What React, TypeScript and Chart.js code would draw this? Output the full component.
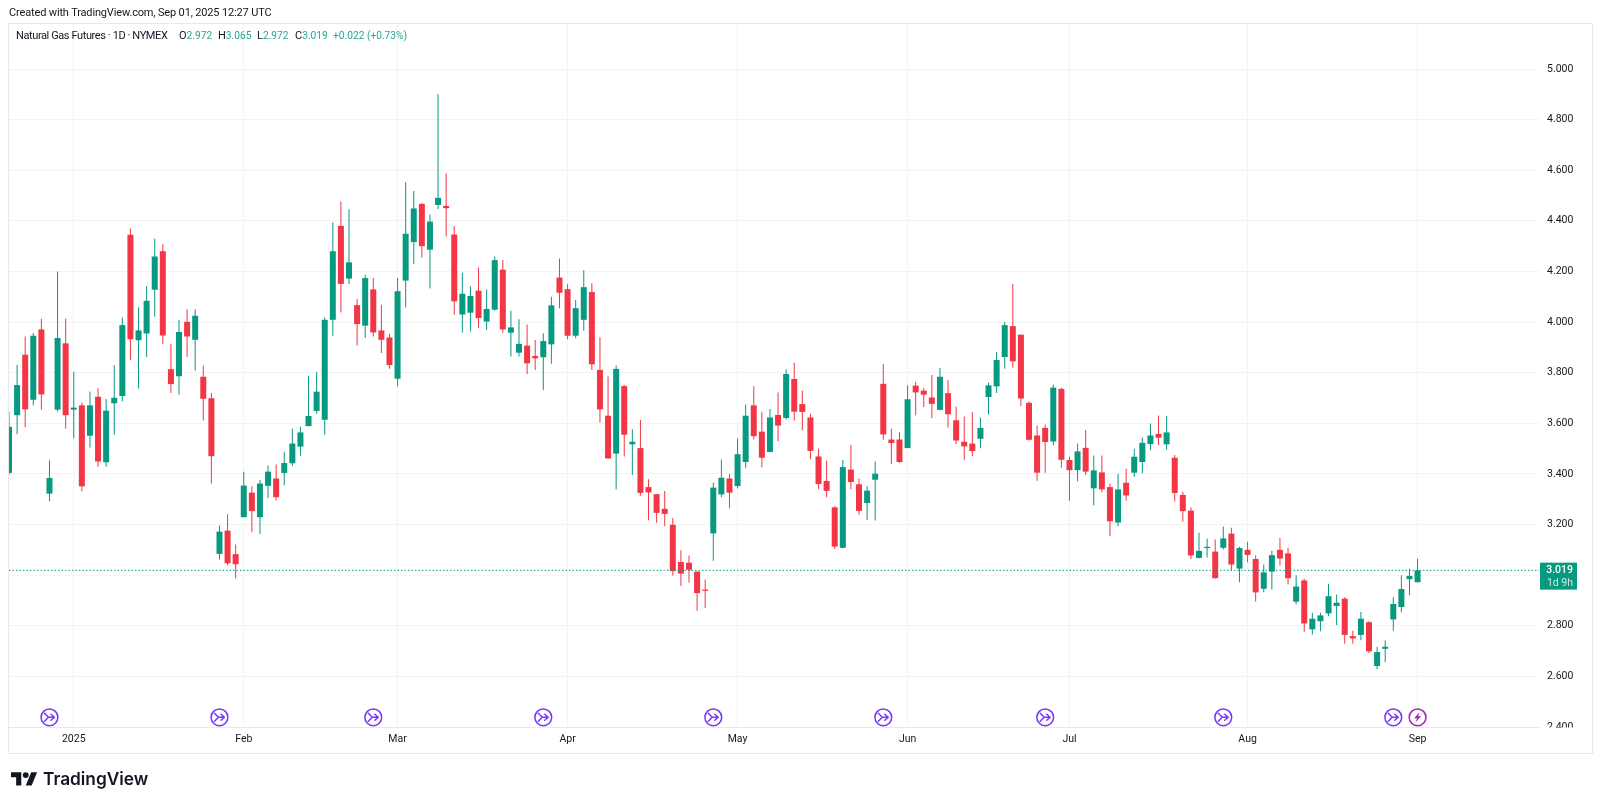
import { useEffect, useRef } from 'react'
import { Chart, registerables } from 'chart.js'

Chart.register(...registerables)

const FONT = 'Roboto, sans-serif'
const GREEN = '#089981'
const RED = '#f23645'
const GRID = '#f3f3f5'
const FRAME = '#e9e9eb'
const INK = '#131722'

// sessions, oldest first; the first eight are late December 2024
const opens = [
  3.404, 3.632, 3.871, 3.693, 3.971, 3.322, 3.654, 3.916,
  3.654, 3.671, 3.551, 3.705, 3.446, 3.679, 3.708, 4.345, 3.928, 3.955,
  4.128, 4.280, 3.814, 3.786, 4.001, 3.930, 3.784, 3.699, 3.084, 3.176,
  3.083, 3.229, 3.326, 3.229, 3.353, 3.382, 3.404, 3.442, 3.508, 3.589,
  3.649, 3.614, 4.009, 4.380, 4.172, 4.067, 3.986, 4.129, 3.967, 3.939,
  3.776, 4.164, 4.316, 4.467, 4.286, 4.463, 4.459, 4.346, 4.030, 4.037,
  4.124, 4.002, 4.049, 4.207, 3.958, 3.879, 3.907, 3.866, 3.861, 3.912,
  4.176, 4.130, 3.946, 4.009, 4.119, 3.811, 3.630, 3.480, 3.747, 3.517,
  3.502, 3.348, 3.320, 3.262, 3.199, 3.052, 3.049, 3.014, 2.943, 3.165,
  3.319, 3.382, 3.352, 3.447, 3.671, 3.567, 3.487, 3.633, 3.621, 3.775,
  3.676, 3.623, 3.469, 3.372, 3.268, 3.108, 3.417, 3.359, 3.285, 3.377,
  3.756, 3.536, 3.536, 3.502, 3.749, 3.729, 3.702, 3.653, 3.719, 3.612,
  3.527, 3.520, 3.539, 3.704, 3.746, 3.862, 3.984, 3.950, 3.681, 3.552,
  3.582, 3.528, 3.736, 3.455, 3.415, 3.503, 3.343, 3.406, 3.348, 3.208,
  3.365, 3.405, 3.447, 3.518, 3.558, 3.517, 3.464, 3.317, 3.255, 3.068,
  3.107, 3.093, 3.108, 3.164, 3.026, 3.100, 3.064, 2.946, 3.014, 3.100,
  3.086, 2.895, 2.979, 2.786, 2.818, 2.849, 2.878, 2.907, 2.759, 2.764,
  2.814, 2.641, 2.709, 2.825, 2.874, 2.984, 2.972,
]
const closes = [
  3.586, 3.751, 3.655, 3.946, 3.714, 3.384, 3.937, 3.632,
  3.662, 3.351, 3.671, 3.449, 3.650, 3.701, 3.988, 3.932, 3.967, 4.084,
  4.259, 3.947, 3.755, 3.961, 3.943, 4.025, 3.697, 3.470, 3.172, 3.047,
  3.043, 3.354, 3.253, 3.362, 3.409, 3.308, 3.443, 3.520, 3.564, 3.629,
  3.725, 4.009, 4.280, 4.151, 4.236, 3.992, 4.174, 3.959, 3.930, 3.830,
  4.122, 4.349, 4.449, 4.300, 4.397, 4.491, 4.450, 4.082, 4.112, 4.103,
  4.016, 4.052, 4.245, 3.971, 3.979, 3.914, 3.837, 3.857, 3.925, 4.066,
  4.116, 3.946, 4.055, 4.138, 3.833, 3.655, 3.461, 3.815, 3.555, 3.527,
  3.325, 3.327, 3.246, 3.242, 3.016, 3.006, 3.021, 2.929, 2.938, 3.346,
  3.385, 3.326, 3.478, 3.630, 3.549, 3.464, 3.623, 3.591, 3.795, 3.646,
  3.645, 3.491, 3.360, 3.333, 3.113, 3.427, 3.368, 3.254, 3.334, 3.401,
  3.556, 3.522, 3.447, 3.695, 3.722, 3.713, 3.677, 3.784, 3.636, 3.532,
  3.509, 3.490, 3.582, 3.750, 3.850, 3.988, 3.845, 3.698, 3.535, 3.405,
  3.526, 3.741, 3.456, 3.415, 3.489, 3.409, 3.414, 3.339, 3.213, 3.339,
  3.315, 3.468, 3.523, 3.552, 3.543, 3.564, 3.325, 3.253, 3.078, 3.096,
  3.112, 2.988, 3.145, 3.042, 3.107, 3.080, 2.932, 3.011, 3.079, 3.066,
  2.988, 2.955, 2.809, 2.828, 2.841, 2.917, 2.891, 2.764, 2.750, 2.828,
  2.699, 2.696, 2.717, 2.886, 2.945, 2.997, 3.019,
]
const highs = [
  3.647, 3.830, 3.943, 3.957, 4.013, 3.454, 4.200, 4.013,
  3.803, 3.682, 3.726, 3.739, 3.696, 3.830, 4.018, 4.370, 4.059, 4.143,
  4.329, 4.308, 3.914, 4.009, 4.051, 4.051, 3.828, 3.720, 3.196, 3.241,
  3.121, 3.409, 3.351, 3.376, 3.433, 3.437, 3.488, 3.579, 3.586, 3.788,
  3.803, 4.018, 4.393, 4.476, 4.446, 4.091, 4.187, 4.174, 4.068, 3.954,
  4.174, 4.553, 4.518, 4.470, 4.425, 4.900, 4.587, 4.380, 4.195, 4.142,
  4.216, 4.129, 4.259, 4.245, 4.045, 4.011, 3.990, 3.929, 3.956, 4.100,
  4.251, 4.149, 4.087, 4.205, 4.153, 3.940, 3.785, 3.829, 3.751, 3.577,
  3.613, 3.379, 3.321, 3.333, 3.226, 3.098, 3.078, 3.014, 2.983, 3.365,
  3.457, 3.401, 3.540, 3.674, 3.746, 3.646, 3.657, 3.722, 3.814, 3.839,
  3.729, 3.638, 3.499, 3.452, 3.272, 3.455, 3.514, 3.382, 3.352, 3.449,
  3.834, 3.579, 3.565, 3.750, 3.764, 3.740, 3.791, 3.819, 3.771, 3.665,
  3.627, 3.645, 3.623, 3.760, 3.882, 4.000, 4.150, 3.951, 3.686, 3.590,
  3.595, 3.752, 3.741, 3.468, 3.520, 3.574, 3.473, 3.473, 3.361, 3.401,
  3.420, 3.499, 3.544, 3.599, 3.631, 3.629, 3.475, 3.330, 3.268, 3.168,
  3.145, 3.141, 3.192, 3.187, 3.112, 3.132, 3.079, 3.042, 3.096, 3.147,
  3.107, 3.000, 2.986, 2.851, 2.851, 2.966, 2.924, 2.913, 2.780, 2.854,
  2.818, 2.717, 2.742, 2.913, 3.000, 3.025, 3.065,
]
const lows = [
  3.396, 3.557, 3.584, 3.670, 3.654, 3.292, 3.647, 3.579,
  3.541, 3.332, 3.504, 3.428, 3.428, 3.555, 3.687, 3.849, 3.738, 3.862,
  4.021, 3.913, 3.720, 3.713, 3.862, 3.809, 3.611, 3.362, 3.062, 3.039,
  2.987, 3.229, 3.170, 3.163, 3.304, 3.296, 3.355, 3.430, 3.472, 3.588,
  3.638, 3.555, 3.946, 4.038, 4.150, 3.907, 3.937, 3.943, 3.878, 3.816,
  3.745, 4.058, 4.230, 4.255, 4.133, 4.447, 4.338, 4.029, 3.958, 3.963,
  3.977, 3.969, 4.045, 3.958, 3.864, 3.864, 3.795, 3.811, 3.732, 3.835,
  4.055, 3.932, 3.936, 3.966, 3.811, 3.603, 3.461, 3.338, 3.469, 3.396,
  3.314, 3.217, 3.207, 3.193, 2.999, 2.957, 2.970, 2.859, 2.870, 3.057,
  3.308, 3.264, 3.342, 3.422, 3.536, 3.426, 3.486, 3.529, 3.615, 3.611,
  3.573, 3.458, 3.339, 3.308, 3.103, 3.106, 3.339, 3.239, 3.218, 3.216,
  3.535, 3.439, 3.444, 3.502, 3.632, 3.664, 3.620, 3.652, 3.583, 3.518,
  3.456, 3.470, 3.501, 3.635, 3.720, 3.816, 3.820, 3.668, 3.532, 3.373,
  3.405, 3.512, 3.424, 3.294, 3.371, 3.396, 3.276, 3.328, 3.154, 3.193,
  3.294, 3.388, 3.403, 3.494, 3.514, 3.496, 3.291, 3.212, 3.064, 3.066,
  3.070, 2.987, 3.101, 3.016, 2.972, 3.051, 2.896, 2.932, 2.943, 3.038,
  2.963, 2.884, 2.776, 2.766, 2.778, 2.838, 2.803, 2.729, 2.729, 2.743,
  2.691, 2.628, 2.657, 2.780, 2.853, 2.921, 2.972,
]

const SLOT_COUNT = 190 // sessions plus the empty space right of the last bar
const monthSlots = [8, 29, 48, 69, 90, 111, 131, 153, 174]
const monthLabels = ['2025', 'Feb', 'Mar', 'Apr', 'May', 'Jun', 'Jul', 'Aug', 'Sep']
const rollSlots = [5, 26, 45, 66, 87, 108, 128, 150, 171]
const boltSlot = 174
const lastClose = closes[closes.length - 1]

const slots = Array.from({ length: SLOT_COUNT }, (_, i) => String(i))
const barColors = closes.map((c, i) => (c >= opens[i] ? GREEN : RED))

const overlay = {
  id: 'overlay',
  afterDraw(chart: any) {
    const { ctx, scales } = chart
    const x = scales.x
    const y = scales.y

    // price labels are cut off where the pane ends
    ctx.save()
    ctx.fillStyle = '#fff'
    ctx.fillRect(1540, 727.5, 50, 24)

    const cy = 717.3
    ctx.lineWidth = 1.5
    ctx.lineCap = 'round'
    ctx.lineJoin = 'round'
    rollSlots.forEach((slot) => {
      const cx = x.getPixelForValue(slot)
      ctx.strokeStyle = '#7636ff'
      ctx.beginPath()
      ctx.arc(cx, cy, 8.4, 0, Math.PI * 2)
      ctx.stroke()
      ctx.beginPath()
      ctx.moveTo(cx - 5, cy - 4)
      ctx.lineTo(cx - 1, cy)
      ctx.lineTo(cx - 5, cy + 4)
      ctx.moveTo(cx - 1, cy)
      ctx.lineTo(cx + 5, cy)
      ctx.moveTo(cx + 1.5, cy - 3)
      ctx.lineTo(cx + 5, cy)
      ctx.lineTo(cx + 1.5, cy + 3)
      ctx.stroke()
    })

    const bx = x.getPixelForValue(boltSlot)
    ctx.strokeStyle = '#9c27b0'
    ctx.fillStyle = '#9c27b0'
    ctx.beginPath()
    ctx.arc(bx, cy, 8.4, 0, Math.PI * 2)
    ctx.stroke()
    ctx.beginPath()
    ctx.moveTo(bx + 2, cy - 5)
    ctx.lineTo(bx - 3.5, cy + 1)
    ctx.lineTo(bx - 0.5, cy + 1)
    ctx.lineTo(bx - 2, cy + 5)
    ctx.lineTo(bx + 3.5, cy - 1)
    ctx.lineTo(bx + 0.5, cy - 1)
    ctx.closePath()
    ctx.fill()

    // last price tag
    const py = y.getPixelForValue(lastClose)
    ctx.fillStyle = GREEN
    ctx.fillRect(1540, py - 7.7, 37, 27)
    ctx.textAlign = 'right'
    ctx.textBaseline = 'middle'
    ctx.fillStyle = '#fff'
    ctx.font = `500 10.5px ${FONT}`
    ctx.fillText(lastClose.toFixed(3), 1573, py)
    ctx.fillStyle = 'rgba(255,255,255,0.8)'
    ctx.font = `10.5px ${FONT}`
    ctx.fillText('1d 9h', 1573, py + 12.6)
    ctx.restore()
  },
}

const textAt = (left: number, top: number, size: number, color = INK): React.CSSProperties => ({
  position: 'absolute',
  left,
  top,
  fontFamily: FONT,
  fontSize: size,
  lineHeight: '16px',
  whiteSpace: 'nowrap',
  color,
})

const TEAL = '#22ab94'
const Num = ({ children }: { children: string }) => <span style={{ color: TEAL, fontSize: 10.2 }}>{children}</span>

export default function App() {
  const canvas = useRef<HTMLCanvasElement>(null)

  useEffect(() => {
    if (!canvas.current) return

    const chart = new Chart(canvas.current, {
      type: 'bar',
      data: {
        labels: slots,
        datasets: [
          {
            type: 'line',
            data: slots.map(() => lastClose),
            borderColor: GREEN,
            borderWidth: 1,
            borderDash: [1.5, 2],
            pointRadius: 0,
            order: 1,
          },
          {
            data: closes.map((c, i) => [opens[i], c]),
            backgroundColor: barColors,
            barThickness: 6,
            grouped: false,
            inflateAmount: 0,
            order: 2,
          },
          {
            data: highs.map((h, i) => [lows[i], h]),
            backgroundColor: barColors,
            barThickness: 1,
            grouped: false,
            inflateAmount: 0,
            order: 3,
          },
        ] as any,
      },
      options: {
        responsive: false,
        animation: false,
        events: [],
        layout: { padding: { left: 9, right: 8, top: 23, bottom: 53 } },
        plugins: { legend: { display: false }, tooltip: { enabled: false } },
        scales: {
          x: {
            type: 'category',
            offset: false,
            grid: { color: GRID, offset: false, drawTicks: false },
            border: { color: FRAME },
            afterBuildTicks: (axis: any) => {
              axis.ticks = axis.ticks.filter((t: any) => monthSlots.includes(t.value))
            },
            afterFit: (axis: any) => {
              axis.height = 25
            },
            ticks: {
              autoSkip: false,
              maxRotation: 0,
              padding: 6,
              color: INK,
              font: { family: FONT, size: 10.5 },
              callback: (value: any) => monthLabels[monthSlots.indexOf(value)],
            },
          },
          y: {
            position: 'right',
            min: 2.4,
            max: 5.1818,
            grid: { color: GRID, drawTicks: false },
            border: { display: false },
            afterFit: (axis: any) => {
              axis.width = 53
            },
            ticks: {
              stepSize: 0.2,
              includeBounds: false,
              padding: 8,
              color: INK,
              font: { family: FONT, size: 10.5 },
              callback: (value: any) => Number(value).toFixed(3),
            },
          },
        },
      },
      plugins: [overlay],
    })

    return () => chart.destroy()
  }, [])

  return (
    <div style={{ position: 'absolute', left: 0, top: 0, width: 1600, height: 805, background: '#fff', overflow: 'hidden' }}>
      <canvas ref={canvas} width={1600} height={805} style={{ display: 'block' }} />
      <div style={{ position: 'absolute', left: 8, top: 23, width: 1583, height: 729, border: `1px solid ${FRAME}`, pointerEvents: 'none' }} />
      <div style={{ ...textAt(9, 5, 11), letterSpacing: -0.15 }}>Created with TradingView.com, Sep 01, 2025 12:27 UTC</div>
      <div style={{ ...textAt(16, 28, 11), letterSpacing: -0.4 }}>Natural Gas Futures · 1D · NYMEX</div>
      <div style={textAt(179, 28, 11)}>O<Num>2.972</Num></div>
      <div style={textAt(218, 28, 11)}>H<Num>3.065</Num></div>
      <div style={textAt(257, 28, 11)}>L<Num>2.972</Num></div>
      <div style={textAt(295, 28, 11)}>C<Num>3.019</Num></div>
      <div style={textAt(333, 28, 10.2, TEAL)}>+0.022 (+0.73%)</div>
      <svg style={{ position: 'absolute', left: 10.5, top: 772 }} width={26.5} height={13.5} viewBox="0 4 36 18">
        <path d="M14 22H7V11H0V4h14v18zM28 22h-8l7.5-18h8L28 22z" fill={INK} />
        <circle cx="20" cy="8" r="4" fill={INK} />
      </svg>
      <div style={{ ...textAt(43, 768, 17.3), fontFamily: 'Inter, sans-serif', fontWeight: 600, lineHeight: '22px' }}>TradingView</div>
    </div>
  )
}
